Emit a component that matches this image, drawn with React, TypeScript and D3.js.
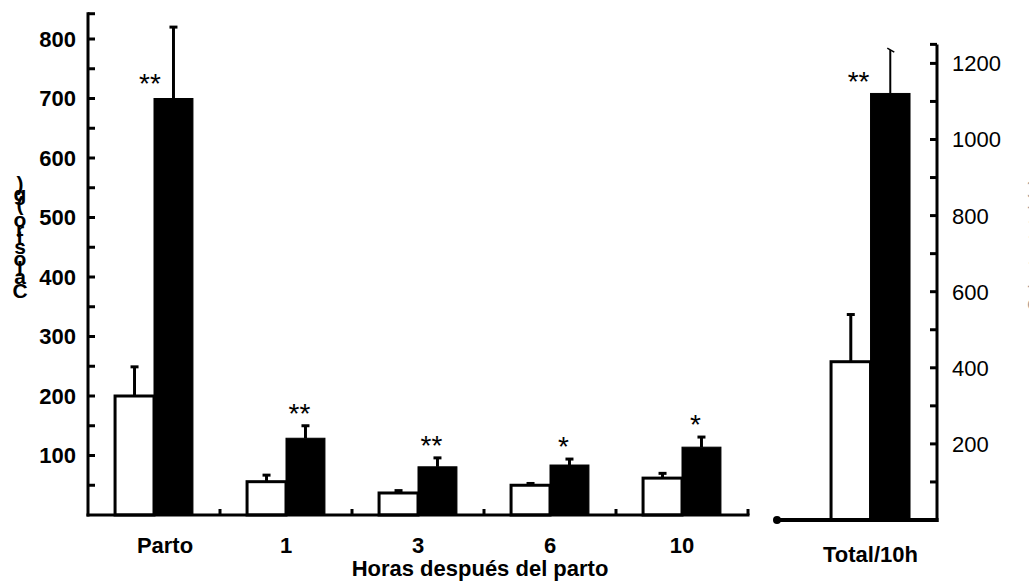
import React, { useMemo } from "react";
import * as d3 from "d3";

// ---------- data ----------
const categories = ["Parto", "1", "3", "6", "10"];
const groups = ["control", "tratado"];
const controlValues = [200, 56, 37, 50, 62];
const controlErrors = [49, 11, 4, 3, 8];
const treatedValues = [700, 129, 81, 84, 114];
const treatedErrors = [120, 21, 15, 10, 17];
const significance = ["**", "**", "**", "*", "*"];
const leftTicks = [100, 200, 300, 400, 500, 600, 700, 800];

const totalCategories = ["Total/10h"];
const totalControlValues = [416];
const totalControlErrors = [124];
const totalTreatedValues = [1121];
const totalTreatedErrors = [114];
const totalSignificance = ["**"];
const rightTicks = [200, 400, 600, 800, 1000, 1200];

const xTitle = "Horas después del parto";
const yTitle = "Calostro (g)";
const yTitleRight = "Calostro total (g)";

const W = 1029;
const H = 584;
const FONT = "'Liberation Sans', Arial, Helvetica, sans-serif";

export default function App() {
  // left panel scales
  const x0 = d3.scaleBand().domain(categories).range([88, 748]).paddingInner(0.41).paddingOuter(0.205);
  const x1 = d3.scaleBand().domain(groups).range([0, x0.bandwidth()]);
  const yL = d3.scaleLinear().domain([0, 800]).range([515, 39]);

  // right panel scales
  const xR = d3.scaleBand().domain(totalCategories).range([777, 937]).paddingInner(0).paddingOuter(0.513).align(0.667);
  const xR1 = d3.scaleBand().domain(groups).range([0, xR.bandwidth()]);
  const yR = d3.scaleLinear().domain([0, 1200]).range([520, 63.4]);

  const glyphs = useMemo(() => {
    const canvas = document.createElement("canvas");
    const ctx = canvas.getContext("2d") as CanvasRenderingContext2D;
    ctx.font = `bold 21px ${FONT}`;
    const chars = Array.from(yTitle);
    const widths = chars.map((c) => ctx.measureText(c).width);
    const total = d3.sum(widths);
    let acc = 0;
    return chars.map((c, i) => {
      const pos = acc + widths[i] / 2;
      acc += widths[i];
      return { c, offset: pos - total / 2 };
    });
  }, []);

  const leftMinor = d3.range(50, 851, 50);
  const rightMinor = d3.range(100, 1201, 100);
  const step = x0.step();
  const r0 = x0.range()[0];
  const boundaries = d3.range(1, categories.length + 1).map((k) => r0 + k * step);

  const stroke = "#000";

  return (
    <svg
      width={W}
      height={H}
      style={{ position: "absolute", left: 0, top: 0, background: "#fff" }}
      fontFamily={FONT}
    >
      <rect x={0} y={0} width={W} height={H} fill="#fff" />

      {/* left panel bars */}
      {categories.map((cat, i) => {
        const gx = x0(cat) as number;
        const gc = gx + x0.bandwidth() / 2;
        const cx = gx + (x1("control") as number);
        const tx = gx + (x1("tratado") as number);
        const bw = x1.bandwidth();
        const cTop = yL(controlValues[i]);
        const cErr = yL(controlValues[i] + controlErrors[i]);
        const tTop = yL(treatedValues[i]);
        const tErr = yL(treatedValues[i] + treatedErrors[i]);
        const tall = treatedErrors[i] > 60;
        const sx = tall ? gc - 4 : tx + bw / 2 - 6;
        const sy = tall ? tTop - 6 : tErr - 3;
        return (
          <g key={cat}>
            <line x1={cx + bw / 2} x2={cx + bw / 2} y1={cTop} y2={cErr} stroke={stroke} strokeWidth={3} />
            <line x1={cx + bw / 2 - 4} x2={cx + bw / 2 + 4} y1={cErr} y2={cErr} stroke={stroke} strokeWidth={3} />
            <line x1={tx + bw / 2} x2={tx + bw / 2} y1={tTop} y2={tErr} stroke={stroke} strokeWidth={3} />
            <line x1={tx + bw / 2 - 4} x2={tx + bw / 2 + 4} y1={tErr} y2={tErr} stroke={stroke} strokeWidth={3} />
            <rect x={cx} y={cTop} width={bw} height={yL(0) - cTop} fill="#fff" stroke={stroke} strokeWidth={3} />
            <rect x={tx} y={tTop} width={bw} height={yL(0) - tTop} fill="#000" stroke={stroke} strokeWidth={1} />
            <text x={sx} y={sy} textAnchor="middle" fontSize={28}>
              {significance[i]}
            </text>
            <text x={gc + (i === 0 ? 11 : 0)} y={553} textAnchor="middle" fontSize={22} fontWeight="bold">
              {cat}
            </text>
          </g>
        );
      })}

      {/* left axis */}
      <line x1={88} x2={88} y1={yL(845)} y2={yL(0) + 1.5} stroke={stroke} strokeWidth={3} />
      {leftMinor.map((v) => (
        <line key={v} x1={88} x2={95} y1={Math.max(yL(v), yL(845) + 1.5)} y2={Math.max(yL(v), yL(845) + 1.5)} stroke={stroke} strokeWidth={3} />
      ))}
      {leftTicks.map((v) => (
        <text key={v} x={76} y={yL(v)} dy="0.36em" textAnchor="end" fontSize={22} fontWeight="bold">
          {v}
        </text>
      ))}
      <line x1={86.5} x2={boundaries[boundaries.length - 1] + 1.5} y1={yL(0)} y2={yL(0)} stroke={stroke} strokeWidth={3} />
      {boundaries.map((b) => (
        <line key={b} x1={b} x2={b} y1={yL(0)} y2={yL(0) - 6} stroke={stroke} strokeWidth={3} />
      ))}

      {/* stacked (upright) y-title glyphs */}
      {glyphs.map((g, i) => (
        <text
          key={i}
          x={20}
          y={239 - g.offset}
          textAnchor="middle"
          dominantBaseline="central"
          fontSize={21}
          fontWeight="bold"
        >
          {g.c}
        </text>
      ))}

      <text x={480} y={576} textAnchor="middle" fontSize={22} fontWeight="bold">
        {xTitle}
      </text>

      {/* right panel */}
      {totalCategories.map((cat, i) => {
        const gx = xR(cat) as number;
        const gc = gx + xR.bandwidth() / 2;
        const bw = xR1.bandwidth();
        const cx = gx + (xR1("control") as number);
        const tx = gx + (xR1("tratado") as number);
        const cTop = yR(totalControlValues[i]);
        const cErr = yR(totalControlValues[i] + totalControlErrors[i]);
        const tTop = yR(totalTreatedValues[i]);
        const tErr = yR(totalTreatedValues[i] + totalTreatedErrors[i]);
        return (
          <g key={cat}>
            <line x1={cx + bw / 2} x2={cx + bw / 2} y1={cTop} y2={cErr} stroke={stroke} strokeWidth={3} />
            <line x1={cx + bw / 2 - 4} x2={cx + bw / 2 + 4} y1={cErr} y2={cErr} stroke={stroke} strokeWidth={3} />
            <line x1={tx + bw / 2} x2={tx + bw / 2} y1={tTop} y2={tErr} stroke={stroke} strokeWidth={2} />
            <line x1={tx + bw / 2 - 3} x2={tx + bw / 2 + 4} y1={tErr - 2} y2={tErr + 2} stroke={stroke} strokeWidth={1.5} />
            <rect x={cx} y={cTop} width={bw} height={yR(0) - cTop} fill="#fff" stroke={stroke} strokeWidth={3} />
            <rect x={tx} y={tTop} width={bw} height={yR(0) - tTop} fill="#000" stroke={stroke} strokeWidth={1} />
            <text x={gc - 12} y={tTop - 2} textAnchor="middle" fontSize={28}>
              {totalSignificance[i]}
            </text>
            <text x={gc} y={562} textAnchor="middle" fontSize={22} fontWeight="bold">
              {cat}
            </text>
          </g>
        );
      })}
      <line x1={777} x2={938.5} y1={yR(0)} y2={yR(0)} stroke={stroke} strokeWidth={4} />
      <circle cx={777} cy={yR(0)} r={4} fill={stroke} />
      <line x1={937} x2={937} y1={yR(1250)} y2={yR(0) + 2} stroke={stroke} strokeWidth={3} />
      {rightMinor.map((v) => (
        <line key={v} x1={930} x2={937} y1={yR(v)} y2={yR(v)} stroke={stroke} strokeWidth={3} />
      ))}
      <line x1={930} x2={937} y1={yR(1250)} y2={yR(1250)} stroke={stroke} strokeWidth={3} />
      {rightTicks.map((v) => (
        <text key={v} x={952} y={yR(v)} dy="0.36em" textAnchor="start" fontSize={22}>
          {v}
        </text>
      ))}
      <text
        transform={`translate(1041, 245) rotate(-90)`}
        textAnchor="middle"
        fontSize={18}
        fill="#999"
      >
        {yTitleRight}
      </text>
    </svg>
  );
}
